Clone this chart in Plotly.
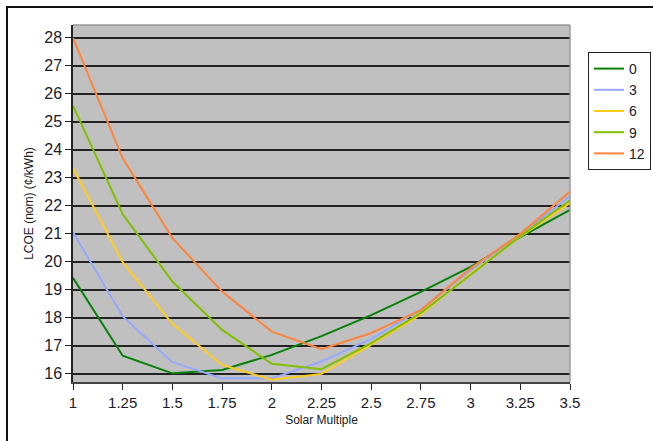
import plotly.graph_objects as go

solar_multiple = [1.0, 1.25, 1.5, 1.75, 2.0, 2.25, 2.5, 2.75, 3.0, 3.25, 3.5]
series_names = ["0", "3", "6", "9", "12"]
lcoe_0 = [19.43, 16.65, 16.02, 16.14, 16.68, 17.35, 18.10, 18.93, 19.82, 20.88, 21.86]
lcoe_3 = [21.06, 18.05, 16.42, 15.84, 15.84, 16.44, 17.25, 18.30, 19.70, 20.95, 22.35]
lcoe_6 = [23.35, 19.99, 17.79, 16.32, 15.79, 16.00, 17.04, 18.12, 19.58, 20.90, 22.10]
lcoe_9 = [25.58, 21.70, 19.30, 17.57, 16.36, 16.17, 17.10, 18.18, 19.54, 20.92, 22.20]
lcoe_12 = [28.00, 23.70, 20.85, 18.94, 17.51, 16.88, 17.46, 18.28, 19.77, 21.00, 22.51]
x_tick_vals = [1.0, 1.25, 1.5, 1.75, 2.0, 2.25, 2.5, 2.75, 3.0, 3.25, 3.5]
x_tick_text = ["1", "1.25", "1.5", "1.75", "2", "2.25", "2.5", "2.75", "3", "3.25", "3.5"]
y_tick_vals = list(range(16, 29))

colors = ["#078007", "#96a8ff", "#ffcc1c", "#80c000", "#ff843c"]
all_series = [lcoe_0, lcoe_3, lcoe_6, lcoe_9, lcoe_12]

fig = go.Figure()
for name, vals, col in zip(series_names, all_series, colors):
    fig.add_trace(go.Scatter(x=solar_multiple, y=vals, mode="lines", name=name,
                             line=dict(color=col, width=2)))

W, H = 653, 441
L, R, T, B = 73, 570, 25, 382
pw, ph = R - L, B - T

def px(xp):
    return (xp - L) / pw

def py(yp):
    return (B - yp) / ph

font_main = "Liberation Sans, Arial, sans-serif"

fig.update_layout(
    width=W, height=H,
    margin=dict(l=L, r=W - R, t=T, b=H - B, pad=0, autoexpand=False),
    paper_bgcolor="white",
    plot_bgcolor="#c0c0c0",
    font=dict(family=font_main, color="#1a1a1a"),
    showlegend=True,
    legend=dict(
        x=px(588), y=py(52), xanchor="left", yanchor="top",
        bgcolor="white", bordercolor="#222", borderwidth=1,
        font=dict(size=14, color="#1a1a2a"),
        itemwidth=30, tracegroupgap=0,
    ),
    xaxis=dict(
        range=[1, 3.5], tickmode="array", tickvals=x_tick_vals, ticktext=x_tick_text,
        showgrid=False, zeroline=False, ticks="outside", ticklen=6, tickcolor="#222",
        showline=True, linecolor="#444", linewidth=1.5,
        tickfont=dict(size=15, color="#1a1a2a"),
        title=dict(text="Solar Multiple", font=dict(size=12, color="#1a1a1a"), standoff=6),
    ),
    yaxis=dict(
        range=[15.71, 28.46], tickmode="array", tickvals=y_tick_vals,
        showgrid=True, gridcolor="#222", gridwidth=1.5, zeroline=False,
        ticks="outside", ticklen=6, tickcolor="#222",
        showline=True, linecolor="#222", linewidth=1.5,
        tickfont=dict(size=16, color="#1a1a2a"),
        title=dict(text="LCOE (nom) (¢/kWh)", font=dict(size=12, color="#1a1a1a"), standoff=8),
    ),
    shapes=[
        dict(type="line", xref="paper", yref="paper", x0=0, x1=1, y0=1, y1=1,
             line=dict(color="#9a9a9a", width=1.5)),
        dict(type="line", xref="paper", yref="paper", x0=1, x1=1, y0=0, y1=1,
             line=dict(color="#9a9a9a", width=1.5)),
        dict(type="rect", xref="paper", yref="paper",
             x0=px(7), x1=px(720), y0=py(500), y1=py(7),
             line=dict(color="#111", width=2), layer="below"),
    ],
)

fig.write_html("out.html", config={"displayModeBar": False},
               post_script="document.body.style.margin='0';document.body.style.overflow='hidden';")
